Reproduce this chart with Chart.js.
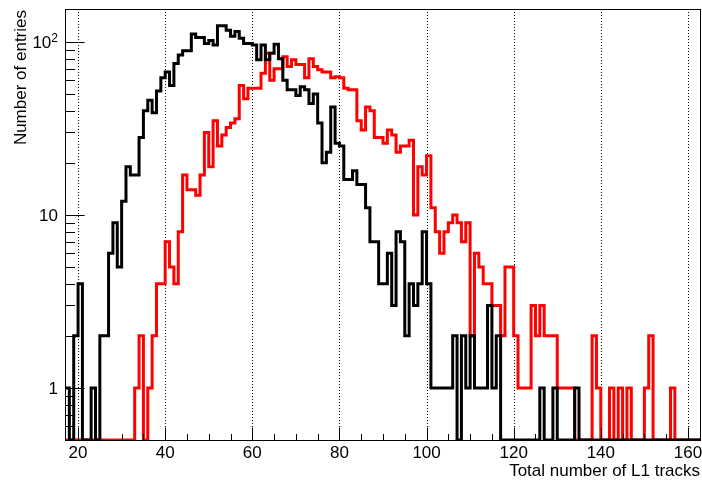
<!DOCTYPE html>
<html><head><meta charset="utf-8">
<script src="https://cdn.jsdelivr.net/npm/chart.js@4.4.1/dist/chart.umd.min.js"></script>
<style>html,body{margin:0;padding:0;background:#fff;}canvas{display:block;}</style>
</head><body>
<canvas id="c" width="702" height="483"></canvas>
<script>
// ---- data (bins of width 1, first bin starts at 17) ----
const binLow = 17;
const binHigh = 163;
const blackCounts = [
 1,0,2,4,0,0,1,0,2,2,
 6,9,5,12,19,17,17,28,40,46,
 39,52,62,67,56,75,84,89,89,111,
 106,106,98,102,96,124,124,117,108,115,
 105,98,98,96,79,96,79,86,97,80,
 60,53,53,49,55,53,44,50,34,20,
 23,42,26,25,16,16,18,15,15,11,
 7,7,4,4,6,3,8,7,2,4,
 3,4,8,4,1,1,1,1,1,2,
 0,2,1,2,1,1,1,3,1,2,
 0,0,0,0,0,0,0,0,0,1,
 0,0,1,0,0,0,0,1,0,0,
 0,0,0,0,0,0,0,0,0,0,
 0,0,0,0,0,0,0,0,0,0,
 0,0,0,0,0,0
];
const redCounts = [
 0,0,0,0,0,0,0,0,0,0,
 0,0,0,0,0,0,1,2,0,1,
 2,4,4,7,5,4,8,17,14,14,
 13,17,30,19,35,25,29,32,34,36,
 56,47,54,54,54,66,86,60,70,70,
 82,72,79,74,74,62,80,72,69,67,
 67,62,63,62,54,53,53,35,31,42,
 40,28,28,26,31,29,23,25,25,27,
 10,19,17,22,11,8,6,8,9,10,
 9,7,9,2,6,5,4,4,3,3,
 2,5,5,2,1,1,1,3,2,3,
 2,2,2,1,1,1,1,0,0,0,
 0,2,1,0,0,1,0,1,0,1,
 0,0,0,1,2,0,0,0,0,1,
 0,0,0,0,0,0
];
const xMajorTicks = [20, 40, 60, 80, 100, 120, 140, 160];
const xMinorStep = 5;
const yMajorTicks = [1, 10, 100];
const yMajorLabels = [['1',''], ['10',''], ['10','2']];
const yMin = 0.5, yMax = 155;
const xTitle = 'Total number of L1 tracks';
const yTitle = 'Number of entries';

function stepPoints(counts) {
  const pts = counts.map((v, i) => ({x: binLow + i, y: v > 0 ? v : yMin}));
  const last = counts[counts.length - 1];
  pts.push({x: binLow + counts.length, y: last > 0 ? last : yMin});
  return pts;
}

const FONT = '17px "Liberation Sans", Arial, Helvetica, sans-serif';

const decor = {
  id: 'decor',
  beforeDatasetsDraw(chart) {
    const {ctx, chartArea: a, scales: {x}} = chart;
    ctx.save();
    ctx.strokeStyle = '#000';
    ctx.lineWidth = 1;
    ctx.setLineDash([1, 2]);
    for (const t of xMajorTicks) {
      const px = Math.round(x.getPixelForValue(t)) + 0.5;
      ctx.beginPath(); ctx.moveTo(px, a.top); ctx.lineTo(px, a.bottom); ctx.stroke();
    }
    ctx.restore();
  },
  afterDatasetsDraw(chart) {
    const {ctx, chartArea: a, scales: {x, y}} = chart;
    ctx.save();
    ctx.strokeStyle = '#000';
    ctx.lineWidth = 1;
    // frame
    ctx.strokeRect(Math.round(a.left) + 0.5, Math.round(a.top) + 0.5,
                   Math.round(a.right - a.left) - 1, Math.round(a.bottom - a.top));
    const fw = a.right - a.left, fh = a.bottom - a.top;
    const xMaj = 0.03 * fh, xMin = xMaj / 2;
    const yMaj = 0.03 * fw, yMinL = yMaj / 2;
    const bot = Math.round(a.bottom) + 0.5;
    // x ticks
    ctx.beginPath();
    for (let v = Math.ceil(x.min / xMinorStep) * xMinorStep; v <= x.max; v += xMinorStep) {
      const px = Math.round(x.getPixelForValue(v)) + 0.5;
      const len = xMajorTicks.includes(v) ? xMaj : xMin;
      ctx.moveTo(px, bot); ctx.lineTo(px, bot - len);
    }
    // y ticks (log)
    const left = Math.round(a.left) + 0.5;
    for (let d = 0.1; d <= 1000; d *= 10) {
      for (let k = 1; k <= 9; k++) {
        const v = Math.round(k * d * 1000) / 1000;
        if (v < y.min || v > y.max) continue;
        const py = Math.round(y.getPixelForValue(v)) + 0.5;
        const len = k === 1 ? yMaj : yMinL;
        ctx.moveTo(left, py); ctx.lineTo(left + len, py);
      }
    }
    ctx.stroke();
    // x labels
    ctx.fillStyle = '#000';
    ctx.font = FONT;
    ctx.textAlign = 'center';
    ctx.textBaseline = 'alphabetic';
    for (const t of xMajorTicks) {
      ctx.fillText(String(t), x.getPixelForValue(t), a.bottom + 18);
    }
    // y labels
    yMajorTicks.forEach((t, i) => {
      const [base, sup] = yMajorLabels[i];
      const py = y.getPixelForValue(t) + 6;
      const rx = a.left - 7;
      if (sup) {
        ctx.font = '12px "Liberation Sans", Arial, sans-serif';
        ctx.textAlign = 'right';
        const sw = ctx.measureText(sup).width;
        ctx.fillText(sup, rx, py - 6);
        ctx.font = FONT;
        ctx.fillText(base, rx - sw, py);
      } else {
        ctx.font = FONT;
        ctx.textAlign = 'right';
        ctx.fillText(base, rx, py);
      }
    });
    // titles
    ctx.font = FONT;
    ctx.textAlign = 'right';
    ctx.fillText(xTitle, a.right - 1, a.bottom + 36);
    ctx.save();
    ctx.translate(26, a.top + 1);
    ctx.rotate(-Math.PI / 2);
    ctx.textAlign = 'right';
    ctx.fillText(yTitle, 0, 0);
    ctx.restore();
    ctx.restore();
  }
};

new Chart(document.getElementById('c'), {
  type: 'line',
  data: {
    datasets: [
      {label: 'black', data: stepPoints(blackCounts), borderColor: '#000000', borderWidth: 3,
       stepped: 'before', pointRadius: 0, fill: false},
      {label: 'red', data: stepPoints(redCounts), borderColor: '#ff0000', borderWidth: 3,
       stepped: 'before', pointRadius: 0, fill: false}
    ]
  },
  options: {
    responsive: false,
    animation: false,
    devicePixelRatio: 1,
    layout: {padding: {left: 65, right: 1, top: 9, bottom: 43}},
    scales: {
      x: {type: 'linear', min: binLow, max: binHigh, display: false},
      y: {type: 'logarithmic', min: yMin, max: yMax, display: false}
    },
    plugins: {legend: {display: false}, tooltip: {enabled: false}},
    elements: {line: {borderJoinStyle: 'miter', borderCapStyle: 'butt'}}
  },
  plugins: [decor]
});
</script>
</body></html>
